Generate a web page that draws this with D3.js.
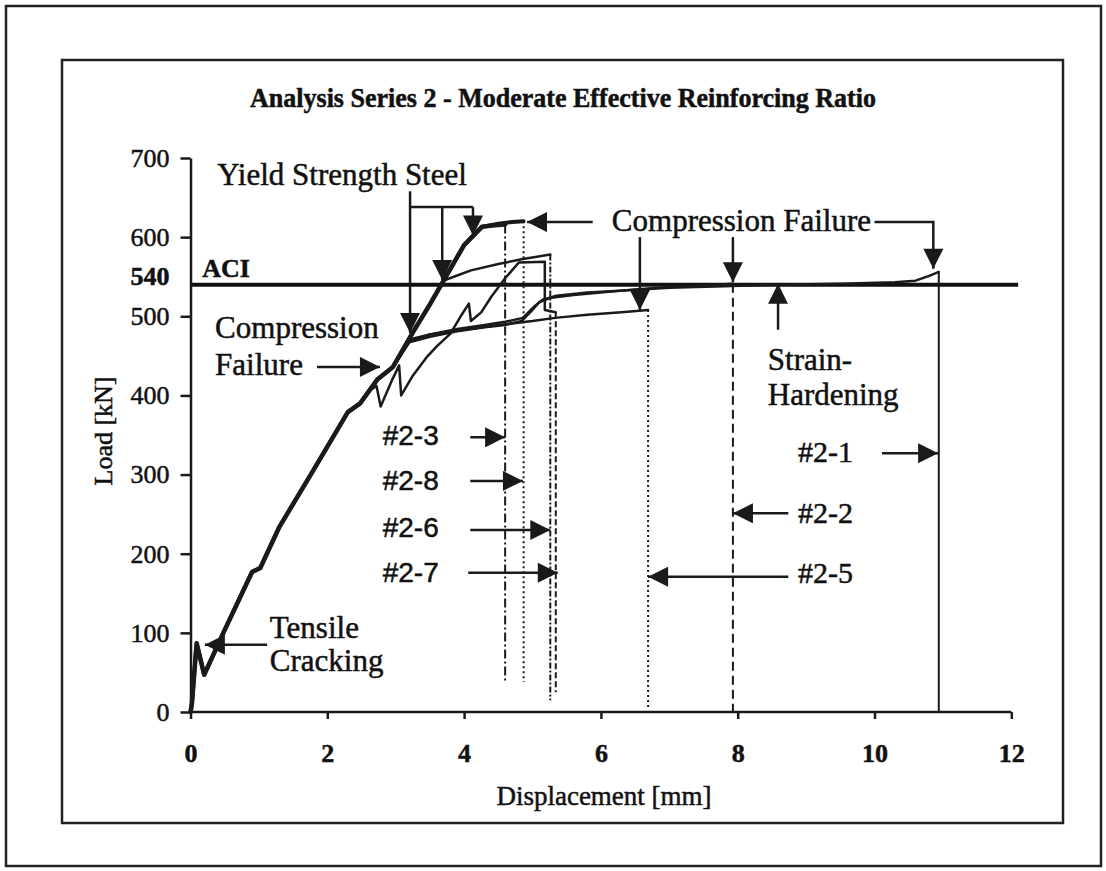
<!DOCTYPE html>
<html lang="en">
<head>
<meta charset="utf-8">
<title>Analysis Series 2 - Moderate Effective Reinforcing Ratio</title>
<script src="https://cdn.jsdelivr.net/npm/d3@7"></script>
<style>
  body { margin: 0; background: #fff; }
  svg { display: block; background: #fff; font-family: "Liberation Serif", "Times New Roman", serif; fill: #111; }
  svg text { stroke: #111; stroke-width: 0.5; }
  .frame { fill: none; stroke: #222; stroke-width: 2.5; }
  .curve { fill: none; stroke: #1a1a1a; stroke-linejoin: round; stroke-linecap: round; }
  .fail { fill: none; stroke: #1a1a1a; stroke-width: 2; }
  .ann { fill: none; stroke: #1a1a1a; stroke-width: 2.5; }
  .axis path, .axis line { stroke: #1a1a1a; stroke-width: 2.5; }
  .axis text { font-family: "Liberation Serif", serif; font-size: 26px; fill: #111; }
  .lbl { font-size: 31px; }
  .idL { font-family: "Liberation Sans", Arial, sans-serif; font-size: 28px; }
  .idR { font-size: 30px; }
</style>
</head>
<body>
<svg></svg>
<script>
// ---- data: displacement [mm], load [kN] ----
var trunk = [[0,0],[0.02,10],[0.09,87],[0.2,47],[0.48,100],[0.9,177],[1.02,182],[1.3,234],
  [1.8,306],[2.3,379],[2.48,390],[2.73,420],[2.96,436]];
var yieldBranch = [[3.26,481],[3.5,515],[3.7,545],[4.0,590],[4.26,613]];

var s2_3 = trunk.concat(yieldBranch, [[4.45,615],[4.6,616]]);
var s2_8 = trunk.concat(yieldBranch, [[4.5,617],[4.7,619],[4.87,620]]);
var s2_6 = trunk.concat([[3.26,481],[3.5,515],[3.7,545],[3.85,550],[4.1,558],[4.5,566],[4.84,572],[5.26,578]]);
var s2_7 = trunk.slice(0, 11).concat([[2.6,405],[2.72,412],[2.78,386],[2.95,420],[3.05,438],[3.08,400],
  [3.25,425],[3.45,448],[3.6,462],[3.8,478],[3.95,500],[4.07,516],[4.1,494],[4.25,505],[4.4,525],
  [4.6,548],[4.8,568],[5.18,569],[5.18,508],[5.34,505]]);
var s2_5 = trunk.concat([[3.21,471],[3.5,477],[4.0,483],[4.5,489],[5.0,494],[5.33,498],[5.8,502],
  [6.3,505],[6.69,508]]);
var s2_2 = trunk.concat([[3.2,467],[3.5,474],[3.9,481],[4.3,486],[4.6,489],[4.84,494],[5.0,508],
  [5.1,518],[5.25,523],[5.6,527],[6.0,530],[6.5,534],[7.0,537],[7.5,539],[7.93,541]]);
var s2_1 = trunk.concat([[3.2,468],[3.5,477],[3.9,484],[4.3,489],[4.6,493],[4.86,498],[5.02,512],
  [5.15,521],[5.35,526],[5.8,530],[6.4,533],[7.0,536],[7.8,538],[8.6,540],[9.5,541],[10.3,543],
  [10.6,545],[10.8,551],[10.94,556]]);

var seriesNames = ["#2-1", "#2-2", "#2-5", "#2-7", "#2-6", "#2-8", "#2-3"];
var seriesData = [s2_1, s2_2, s2_5, s2_7, s2_6, s2_8, s2_3];

// failure (vertical drop) lines
var failNames = ["#2-3", "#2-8", "#2-6", "#2-7", "#2-5", "#2-2", "#2-1"];
var failDisp = [4.6, 4.87, 5.26, 5.34, 6.69, 7.93, 10.94];
var failTop = [616, 620, 578, 505, 508, 541, 556];
var failBottom = [38, 38, 15, 25, 6, 0, 0];

var aciLoad = 540;
var xTicks = [0, 2, 4, 6, 8, 10, 12];
var yTicks = [0, 100, 200, 300, 400, 500, 540, 600, 700];

// annotation texts, anchored in data units
var notes = [
  ["Yield Strength Steel", 0.39, 666, "lbl"],
  ["Compression Failure", 6.16, 608, "lbl"],
  ["Compression", 0.36, 473, "lbl"],
  ["Failure", 0.36, 426, "lbl"],
  ["Tensile", 1.16, 93, "lbl"],
  ["Cracking", 1.16, 52, "lbl"],
  ["Strain-", 8.44, 432, "lbl"],
  ["Hardening", 8.44, 388, "lbl"],
  ["#2-3", 2.81, 337, "idL"],
  ["#2-8", 2.81, 280, "idL"],
  ["#2-6", 2.81, 221, "idL"],
  ["#2-7", 2.81, 164, "idL"],
  ["#2-1", 8.88, 316, "idR"],
  ["#2-2", 8.88, 239, "idR"],
  ["#2-5", 8.88, 163, "idR"]
];
// arrows: polyline points, head on the last one
var arrows = [
  [[3.21,658],[3.21,479]],
  [[3.68,638],[3.68,546]],
  [[4.13,638],[4.13,602]],
  [[5.88,619],[4.92,619]],
  [[6.57,600],[6.57,508]],
  [[7.93,600],[7.93,543]],
  [[10.0,619],[10.86,619],[10.86,560]],
  [[1.85,436],[2.77,436]],
  [[1.12,85],[0.21,85]],
  [[8.59,483],[8.59,541]],
  [[4.09,347],[4.6,347]],
  [[4.09,292],[4.86,292]],
  [[4.09,230],[5.26,230]],
  [[4.06,176],[5.37,176]],
  [[8.74,171],[6.69,171]],
  [[8.74,251],[7.93,251]],
  [[10.11,327],[10.93,327]]
];
var bracket = [[3.21,638],[4.13,638]];

var W = 1106, H = 871;
var svg = d3.select("svg").attr("width", W).attr("height", H);

// outer and inner frames
svg.append("rect").attr("class", "frame").attr("x", 6).attr("y", 6).attr("width", 1095).attr("height", 860);
svg.append("rect").attr("class", "frame").attr("x", 62).attr("y", 60).attr("width", 1001).attr("height", 763);

var x = d3.scaleLinear().domain([0, 12]).range([190.5, 1011.3]);
var y = d3.scaleLinear().domain([0, 700]).range([712, 158]);

svg.append("defs").append("marker")
  .attr("id", "head")
  .attr("viewBox", "0 0 10 10")
  .attr("refX", 10).attr("refY", 5)
  .attr("markerUnits", "userSpaceOnUse")
  .attr("markerWidth", 21).attr("markerHeight", 20)
  .attr("orient", "auto")
  .append("path").attr("d", "M0,0L10,5L0,10Z").attr("fill", "#1a1a1a");

// title
svg.append("text")
  .attr("x", 250).attr("y", 107)
  .attr("textLength", 626).attr("lengthAdjust", "spacingAndGlyphs")
  .style("font-size", "27px").style("font-weight", "bold")
  .text("Analysis Series 2 - Moderate Effective Reinforcing Ratio");

// axes
var xAxis = svg.append("g").attr("class", "axis")
  .attr("transform", "translate(0," + y(0) + ")")
  .call(d3.axisBottom(x).tickValues(xTicks).tickSize(7).tickSizeOuter(0));
xAxis.selectAll("text").attr("y", 50).attr("dy", 0).style("font-weight", "bold");

var yAxis = svg.append("g").attr("class", "axis")
  .attr("transform", "translate(" + x(0) + ",0)")
  .call(d3.axisLeft(y).tickValues(yTicks).tickSize(10).tickSizeOuter(0));
yAxis.selectAll("text").attr("x", -21).attr("dy", "0.32em");
yAxis.selectAll(".tick").filter(function(d) { return d === aciLoad; })
  .each(function() {
    d3.select(this).select("line").remove();
    d3.select(this).select("text").attr("dy", "0").style("font-weight", "bold");
  });
xAxis.select(".domain").attr("d", "M" + x(0) + ",0H" + x(12));

svg.append("text").attr("x", 604).attr("y", 805).attr("text-anchor", "middle")
  .style("font-size", "27px").text("Displacement [mm]");
svg.append("text").attr("transform", "translate(112,431) rotate(-90)").attr("text-anchor", "middle")
  .style("font-size", "26px").text("Load [kN]");

// ACI line
svg.append("line")
  .attr("x1", x(0)).attr("x2", x(12.1))
  .attr("y1", y(aciLoad)).attr("y2", y(aciLoad))
  .attr("stroke", "#111").attr("stroke-width", 4);
svg.append("text").attr("x", x(0.17)).attr("y", y(550))
  .style("font-size", "26px").style("font-weight", "bold").text("ACI");

// curves
var line = d3.line().x(function(d) { return x(d[0]); }).y(function(d) { return y(d[1]); });
var curveWidth = { "#2-3": 4.5, "#2-8": 4 };
svg.append("g").selectAll("path")
  .data(seriesData)
  .enter().append("path")
  .attr("class", "curve")
  .attr("d", line)
  .attr("stroke-width", function(d, i) { return curveWidth[seriesNames[i]] || 2.5; });

// failure lines
var failDash = {
  "#2-3": "9,3,2,3",
  "#2-8": "2,3",
  "#2-6": "6,2,2,2",
  "#2-7": "6,3",
  "#2-5": "2,3",
  "#2-2": "9,5",
  "#2-1": null
};
svg.append("g").selectAll("line")
  .data(failNames)
  .enter().append("line")
  .attr("class", "fail")
  .attr("x1", function(d, i) { return x(failDisp[i]); })
  .attr("x2", function(d, i) { return x(failDisp[i]); })
  .attr("y1", function(d, i) { return y(failTop[i]); })
  .attr("y2", function(d, i) { return y(failBottom[i]); })
  .attr("stroke-dasharray", function(d) { return failDash[d]; });

// annotations
svg.append("path").attr("class", "ann").attr("d", line(bracket));
svg.append("g").selectAll("path")
  .data(arrows)
  .enter().append("path")
  .attr("class", "ann")
  .attr("d", line)
  .attr("marker-end", "url(#head)");

svg.append("g").selectAll("text")
  .data(notes)
  .enter().append("text")
  .attr("class", function(d) { return d[3]; })
  .attr("x", function(d) { return x(d[1]); })
  .attr("y", function(d) { return y(d[2]); })
  .text(function(d) { return d[0]; });
</script>
</body>
</html>
